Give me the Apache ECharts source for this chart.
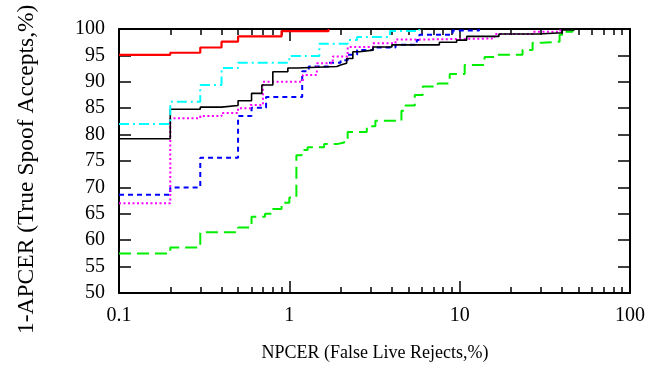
<!DOCTYPE html>
<html><head><meta charset="utf-8">
<script src="https://cdn.jsdelivr.net/npm/echarts@6/dist/echarts.min.js"></script>
<style>html,body{margin:0;padding:0;background:#fff}#c{width:667px;height:369px}</style>
</head><body><div id="c"></div>
<script>
// ---- data ----
const xMajorTicks = [0.1, 1, 10, 100];
const xMinorTicks = [0.2,0.3,0.4,0.5,0.6,0.7,0.8,0.9,2,3,4,5,6,7,8,9,20,30,40,50,60,70,80,90];
const yTicks = [50,55,60,65,70,75,80,85,90,95,100];
const xTitle = 'NPCER (False Live Rejects,%)';
const yTitle = '1-APCER (True Spoof Accepts,%)';

const redData = [[0.1,95.1],[0.2,95.5],[0.3,96.5],[0.4,97.6],[0.5,98.6],[0.9,99.6],[1.7,100]];
const cyanData = [[0.1,82.0],[0.2,86.2],[0.3,89.4],[0.4,92.6],[0.5,93.6],[1.0,94.9],[1.5,97.2],[2.2,97.9],[2.5,98.5],[3.9,99.6],[5.8,100]];
const blackData = [[0.1,79.2],[0.2,84.8],[0.3,85.2],[0.4,85.5],[0.5,86.4],[0.6,87.8],[0.69,89.4],[0.8,91.9],[0.98,92.6],[1.12,92.9],[1.9,93.2],[2.0,93.5],[2.17,94.4],[2.36,95.7],[2.58,96.0],[3.1,96.6],[4.0,97.0],[7.6,97.5],[9.6,97.9],[11,98.6],[17,99.05],[29,99.3],[40,99.8],[47,100]];
const magentaData = [[0.1,67.0],[0.2,83.1],[0.3,83.5],[0.4,84.1],[0.5,85.0],[0.59,85.6],[0.7,90.0],[1.2,91.3],[1.45,93.5],[1.8,94.8],[2.2,96.6],[3.1,97.3],[4.2,98.0],[5.6,98.2],[16,99.05],[27,99.5],[39,100]];
const blueData = [[0.1,68.6],[0.2,70.0],[0.3,75.6],[0.5,83.5],[0.6,85.1],[0.73,87.1],[1.19,92.0],[1.3,92.9],[1.7,93.6],[2.0,94.1],[2.2,95.1],[2.5,96.0],[3.1,96.5],[4.2,97.0],[5.6,97.9],[5.8,98.9],[9.1,99.7],[13,100]];
const greenData = [[0.1,57.5],[0.2,58.6],[0.3,61.5],[0.5,62.4],[0.6,64.45],[0.72,65.0],[0.8,65.9],[0.9,67.1],[1.0,68.1],[1.1,76.1],[1.18,77.1],[1.28,77.6],[1.6,78.2],[1.9,78.5],[2.1,79.1],[2.2,80.5],[2.85,81.6],[3.2,82.6],[4.55,84.5],[4.8,85.5],[5.45,87.5],[6.07,89.1],[7.43,89.7],[8.74,91.5],[10.7,93.2],[14,94.7],[16.5,95.1],[23.4,96.0],[26.8,97.4],[30.3,97.6],[38.6,98.9],[41.3,99.5],[46,100]];

// ---- chart ----
const FONT = 'Liberation Serif';
const FS = 20;
const chart = echarts.init(document.getElementById('c'), null, {renderer: 'canvas'});

function xAx(pos, opts) {
  return Object.assign({
    type: 'log', logBase: 10, min: 0.1, max: 100, position: pos,
    axisLine: {show: true, onZero: false, lineStyle: {color: '#000', width: 2}},
    axisTick: {show: true, inside: true, length: 12, lineStyle: {color: '#000', width: 1.5}},
    axisLabel: {show: false},
    splitLine: {show: false}, minorTick: {show: false}
  }, opts);
}
function yAx(pos, opts) {
  return Object.assign({
    type: 'value', min: 50, max: 100, interval: 5, position: pos,
    axisLine: {show: true, onZero: false, lineStyle: {color: '#000', width: 2}},
    axisTick: {show: true, inside: true, length: 12, lineStyle: {color: '#000', width: 1.5}},
    axisLabel: {show: false},
    splitLine: {show: false}
  }, opts);
}

const option = {
  animation: false,
  backgroundColor: '#fff',
  grid: {left: 119, right: 37, top: 29, bottom: 76, containLabel: false},
  xAxis: [
    xAx('bottom', {axisLabel: {show: true, color: '#000', fontFamily: FONT, fontSize: FS, margin: 13,
      customValues: xMajorTicks, formatter: v => String(v)}, axisTick: {show: true, inside: true, length: 12, customValues: xMajorTicks, lineStyle: {color: '#000', width: 1.5}}}),
    xAx('top', {axisTick: {show: true, inside: true, length: 12, customValues: xMajorTicks, lineStyle: {color: '#000', width: 1.5}}}),
    xAx('bottom', {axisLine: {show: false}, axisTick: {show: true, inside: true, length: 6, customValues: xMinorTicks, lineStyle: {color: '#000', width: 1.5}}}),
    xAx('top', {axisLine: {show: false}, axisTick: {show: true, inside: true, length: 6, customValues: xMinorTicks, lineStyle: {color: '#000', width: 1.5}}})
  ],
  yAxis: [
    yAx('left', {axisLabel: {show: true, color: '#000', fontFamily: FONT, fontSize: FS, margin: 14, customValues: yTicks}}),
    yAx('right', {})
  ],
  graphic: [
    {type: 'text', x: 375, y: 353, style: {text: xTitle, fontFamily: FONT, fontSize: 18, fill: '#000', align: 'center', verticalAlign: 'middle'}},
    {type: 'text', x: 27, y: 334, rotation: Math.PI / 2, style: {text: yTitle, fontFamily: FONT, fontSize: 23.5, fill: '#000', align: 'left', verticalAlign: 'middle'}}
  ],
  series: [
    {name: 'green', type: 'line', step: 'end', data: greenData, showSymbol: false, lineStyle: {color: '#00ee00', width: 2, type: [12, 6]}},
    {name: 'blue', type: 'line', step: 'end', data: blueData, showSymbol: false, lineStyle: {color: '#0000ff', width: 2, type: [5, 4]}},
    {name: 'magenta', type: 'line', step: 'end', data: magentaData, showSymbol: false, lineStyle: {color: '#ff00ff', width: 2, type: [2, 2.5]}},
    {name: 'black', type: 'line', step: 'end', data: blackData, showSymbol: false, lineStyle: {color: '#000', width: 1.6}},
    {name: 'cyan', type: 'line', step: 'end', data: cyanData, showSymbol: false, lineStyle: {color: '#00ffff', width: 2, type: [10, 4, 2, 4]}},
    {name: 'red', type: 'line', step: 'end', data: redData, showSymbol: false, lineStyle: {color: '#ff0000', width: 2.2}}
  ]
};
option.series.forEach(s => { s.xAxisIndex = 0; s.yAxisIndex = 0; s.symbol = 'none'; s.silent = true; });
chart.setOption(option);
</script></body></html>
